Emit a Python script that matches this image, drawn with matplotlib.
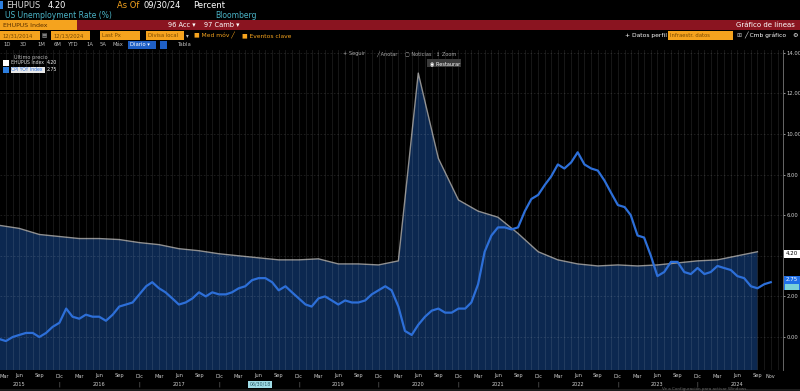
import numpy as np
import pandas as pd
import matplotlib
matplotlib.use('Agg')
import matplotlib.pyplot as plt
import matplotlib.dates as mdates
from matplotlib.patches import Rectangle

# US unemployment rate, quarterly (Q4 2014 .. Q3 2024)
unemp_dates = pd.date_range('2014-12-31', '2024-09-30', freq='QE')
unemp = [5.65,
         5.5, 5.35, 5.05, 4.95,
         4.85, 4.85, 4.8, 4.65,
         4.55, 4.35, 4.25, 4.1,
         4.0, 3.9, 3.8, 3.8,
         3.85, 3.6, 3.6, 3.55,
         3.75, 13.0, 8.8, 6.75,
         6.2, 5.9, 5.1, 4.2,
         3.8, 3.6, 3.5, 3.55,
         3.5, 3.55, 3.65, 3.75,
         3.8, 4.0, 4.2]

# CPI YoY, monthly (Jan 2015 .. Nov 2024)
cpi_dates = pd.date_range('2015-01-31', '2024-11-30', freq='ME')
cpi = [-0.1, 0.0, -0.1, -0.2, 0.0, 0.1, 0.2, 0.2, 0.0, 0.2, 0.5, 0.7,
       1.4, 1.0, 0.9, 1.1, 1.0, 1.0, 0.8, 1.1, 1.5, 1.6, 1.7, 2.1,
       2.5, 2.7, 2.4, 2.2, 1.9, 1.6, 1.7, 1.9, 2.2, 2.0, 2.2, 2.1,
       2.1, 2.2, 2.4, 2.5, 2.8, 2.9, 2.9, 2.7, 2.3, 2.5, 2.2, 1.9,
       1.6, 1.5, 1.9, 2.0, 1.8, 1.6, 1.8, 1.7, 1.7, 1.8, 2.1, 2.3,
       2.5, 2.3, 1.5, 0.3, 0.1, 0.6, 1.0, 1.3, 1.4, 1.2, 1.2, 1.4,
       1.4, 1.7, 2.6, 4.2, 5.0, 5.4, 5.4, 5.3, 5.4, 6.2, 6.8, 7.0,
       7.5, 7.9, 8.5, 8.3, 8.6, 9.1, 8.5, 8.3, 8.2, 7.7, 7.1, 6.5,
       6.4, 6.0, 5.0, 4.9, 4.0, 3.0, 3.2, 3.7, 3.7, 3.2, 3.1, 3.4,
       3.1, 3.2, 3.5, 3.4, 3.3, 3.0, 2.9, 2.5, 2.4, 2.6, 2.7]

yticks = [0, 2, 4, 6, 8, 10, 12, 14]
month_names = {3: 'Mar', 6: 'Jun', 9: 'Sep', 12: 'Dic', 11: 'Nov'}

W, H = 800, 391
fig = plt.figure(figsize=(8, 3.91), dpi=100, facecolor='black')


def fx(x):
    return x / W


def fy(y):
    return 1 - y / H


def box(x0, y0, x1, y1, color, z=1):
    fig.add_artist(Rectangle((fx(x0), fy(y1)), (x1 - x0) / W, (y1 - y0) / H,
                             transform=fig.transFigure, facecolor=color,
                             edgecolor='none', zorder=z))


def txt(x, y, s, color='#d8d8d8', size=4.5, ha='left', **kw):
    fig.text(fx(x), fy(y), s, color=color, fontsize=size, ha=ha, va='center',
             zorder=8, **kw)


orange = '#f5a31e'

# header rows
box(0, 1, 3, 9, '#2d7fe0')
txt(6, 5.5, 'EHUPUS', size=6)
txt(48, 5.5, '4.20', color='white', size=6)
txt(117, 5.5, 'As Of', color=orange, size=6)
txt(143, 5.5, '09/30/24', color='white', size=6)
txt(193, 5.5, 'Percent', color='white', size=6)
txt(5, 15.5, 'US Unemployment Rate (%)', color='#4ab3c6', size=5.5)
txt(215, 15.5, 'Bloomberg', color='#4ab3c6', size=5.5)

box(0, 20.5, 800, 30, '#8a1420')
box(0, 20.5, 77, 30, orange, z=2)
txt(3, 25.3, 'EHUPUS Index', color='#5a3000', size=4.5)
txt(168, 25.3, '96 Acc \u25be', color='white', size=4.8)
txt(204, 25.3, '97 Camb \u25be', color='white', size=4.8)
txt(795, 25.3, 'Gr\u00e1fico de l\u00edneas', color='white', size=5, ha='right')

for x0, x1, s in [(0, 40, '12/31/2014'), (51, 90, '12/13/2024'),
                  (100, 140, 'Last Px'), (146, 184, 'Divisa local'),
                  (668, 733, 'Infraestr. datos')]:
    box(x0, 31.5, x1, 39.5, orange, z=2)
    txt(x0 + 2, 35.5, s, color='#7a4a00', size=3.8)
txt(42, 35.5, '\u25a4', color='#bbbbbb', size=4)
txt(186, 35.5, '\u25be', color='#bbbbbb', size=4)
txt(194, 35.5, '\u25a0 Med m\u00f3v \u2571', color=orange, size=4.3)
txt(242, 35.5, '\u25a0 Eventos clave', color=orange, size=4.3)
txt(625, 35.5, '+ Datos perfil', color='white', size=4.3)
txt(736, 35.5, '\u229e', color='#bbbbbb', size=4.3)
txt(744, 35.5, '\u2571 Cmb gr\u00e1fico', color='white', size=4.3)
txt(792, 35.5, '\u2699', color='white', size=4.5)

for x, s in [(3, '1D'), (20, '3D'), (37, '1M'), (54, '6M'), (68, 'YTD'),
             (86, '1A'), (100, '5A'), (113, 'M\u00e1x')]:
    txt(x, 44.5, s, color='#bbbbbb', size=3.8)
box(128, 41, 156, 48.5, '#1f5fc4', z=2)
txt(130, 44.7, 'Diario \u25be', color='white', size=3.8)
box(160, 41, 167, 48.5, '#1f5fc4', z=2)
txt(178, 44.5, 'Tabla', color='#bbbbbb', size=3.8)

# chart
top_px, bot_px, zero_px, ppu = 50, 370, 337, 20.3
ax = fig.add_axes([0, fy(bot_px), 783 / W, (bot_px - top_px) / H])
ax.set_facecolor('black')
ax.set_ylim((zero_px - bot_px) / ppu, (zero_px - top_px) / ppu)
ax.set_xlim(pd.Timestamp('2015-04-03'), pd.Timestamp('2025-01-25'))

grid_dates = pd.date_range('2015-01-31', '2025-01-31', freq='ME')
for d in grid_dates:
    ax.axvline(d, color=(1, 1, 1, 0.11), lw=0.6, zorder=3)
for v in yticks:
    ax.axhline(v, color=(1, 1, 1, 0.13), lw=0.6, ls=(0, (2, 2)), zorder=3)

ax.fill_between(unemp_dates, unemp, -10, color='#0c2850', lw=0, zorder=1)
ax.plot(unemp_dates, unemp, color='#8e8e8e', lw=1.0, zorder=2)
ax.plot(cpi_dates, cpi, color='#2d6fd8', lw=1.6, zorder=4)

for s in ['top', 'left', 'bottom']:
    ax.spines[s].set_visible(False)
ax.spines['right'].set_color('#777777')
ax.spines['right'].set_linewidth(0.6)
ax.yaxis.tick_right()
ax.set_yticks(yticks)
# the 4.00 label is hidden behind the last-value box in the original
ax.set_yticklabels(['' if v == 4 else f'{v:.2f}' for v in yticks])
ax.tick_params(axis='y', colors='#cfcfcf', labelsize=3.8, length=1.5, width=0.5, pad=1)
ax.set_xticks([])

# month / year labels along the bottom
xt = ax.get_xaxis_transform()
y_month = -(376 - bot_px) / (bot_px - top_px)
y_year = -(384.5 - bot_px) / (bot_px - top_px)
first = True
for d in cpi_dates:
    if d < pd.Timestamp('2015-03-01'):
        continue
    if d.month in (3, 6, 9, 12) or (d.year == 2024 and d.month == 11):
        ax.text(d, y_month, month_names[d.month], transform=xt,
                ha='left' if first else 'center',
                va='center', color='#cfcfcf', fontsize=3.6, clip_on=False)
        first = False
    if d.month == 6 and d.year != 2018:
        ax.text(d, y_year, str(d.year), transform=xt, ha='center', va='center',
                color='#cfcfcf', fontsize=3.6, clip_on=False)
    if d.month == 12:
        ax.text(d, y_year, '|', transform=xt, ha='center', va='center',
                color='#888888', fontsize=3.6, clip_on=False)

# legend and in-chart tools
txt(14, 57, '\u00daltimo precio', color='#bbbbbb', size=3.6)
box(3, 60, 9, 66, 'white', z=3)
txt(11, 63, 'EHUPUS Index', color='#dddddd', size=3.3)
txt(47, 63, '4.20', color='white', size=3.3)
box(3, 67, 9, 73, '#2d7fe0', z=3)
box(10.5, 66.5, 45, 73, '#e8e8e8', z=3)
txt(11, 69.8, 'CPI YOY Index', color='#2d6fd8', size=3.3)
txt(47, 69.8, '2.75', color='white', size=3.3)

for x, s in [(343, '+ Seguir'), (376, '\u2571 Anotar'), (405, '\u25a2 Noticias'),
             (436, '\u2195 Zoom')]:
    txt(x, 54, s, color='#aaaaaa', size=3.6)
box(427, 59.5, 461, 67, '#3a3a3a', z=3)
txt(430, 63.3, '\u25c9 Restaurar', color='white', size=3.6)

# right side value boxes
box(784, 249.5, 800, 257.5, 'white', z=6)
fig.text(fx(786), fy(253.5), '4.20', color='black', fontsize=4.0, va='center', zorder=9)
box(784, 276, 800, 290, '#1f6fe8', z=6)
fig.text(fx(786), fy(279.5), '2.75', color='white', fontsize=4.0, va='center', zorder=9)
box(785, 283.5, 799, 289.5, '#7ad0d8', z=7)

# cursor date box and bottom strip
box(248, 381, 272, 388, '#9fdbe6', z=6)
txt(250, 384.5, '06/30/18', color='#2a5a66', size=3.4)
box(0, 388.5, 800, 391, '#1c1c1c', z=6)
txt(662, 388.6, 'Ve a Configuraci\u00f3n para activar Windows.', color='#666666', size=3.0)

fig.savefig('out.png', dpi=100, facecolor='black')
